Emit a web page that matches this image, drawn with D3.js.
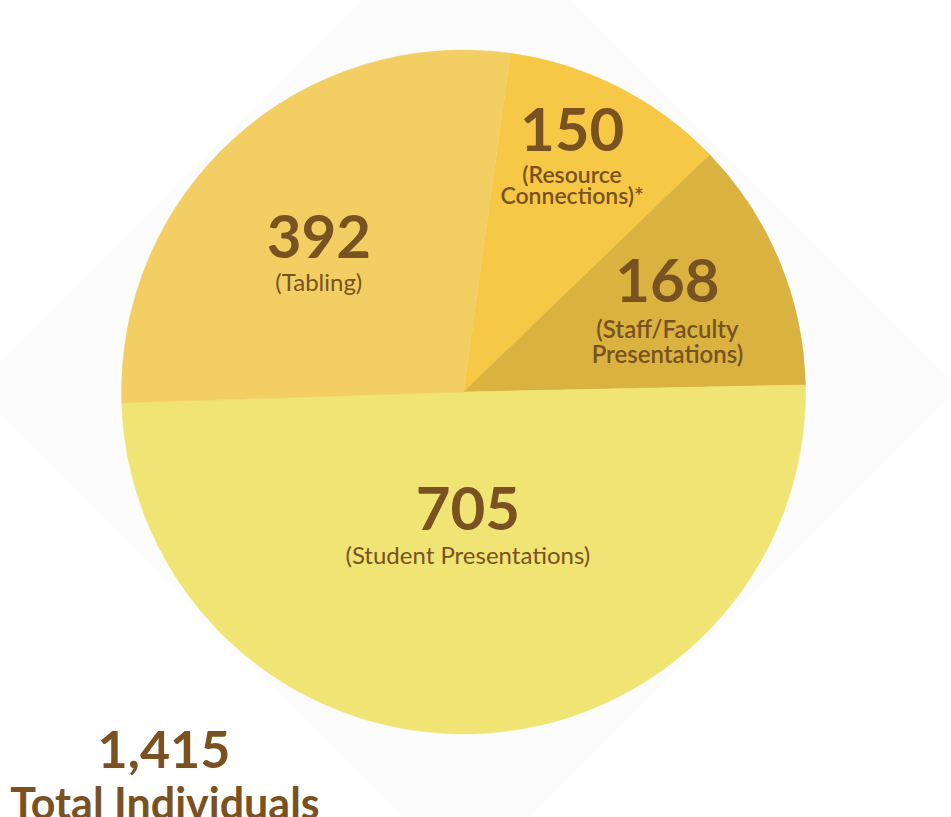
<!DOCTYPE html>
<html>
<head>
<meta charset="utf-8">
<script src="https://cdn.jsdelivr.net/npm/d3@7/dist/d3.min.js"></script>
<style>
  html, body { margin: 0; padding: 0; background: #ffffff; overflow: hidden; }
  svg { display: block; font-family: "Lato", "Open Sans", sans-serif; }
</style>
</head>
<body>
<svg id="chart" width="951" height="817"></svg>
<script>
// ---- data ----
const categories = ["Resource Connections", "Staff/Faculty Presentations", "Student Presentations", "Tabling"];
const values = [150, 168, 705, 392];
const subLabels = [["(Resource", "Connections)*"], ["(Staff/Faculty", "Presentations)"], ["(Student Presentations)"], ["(Tabling)"]];
const colors = ["#f6c845", "#d9b23f", "#f0e474", "#f3ce63"];
const totalLabel = "Total Individuals";

// ---- layout ----
const W = 951, H = 817;
const cx = 463.5, cy = 392, R = 342;
const startA = 0.138;
const textColor = "#7a5222";
// label anchor: radius and angle offset (deg) relative to slice mid-angle
const labelLayout = {
  "Resource Connections": { r: 264, da: -2.7, subW: 600, subSize: 23, lineH: 21, gap: 32 },
  "Staff/Faculty Presentations": { r: 223, da: -1.3, subW: 600, subSize: 24, lineH: 25, gap: 36 },
  "Student Presentations": { r: 138, da: -0.3, subW: 400, subSize: 24, lineH: 24, gap: 34 },
  "Tabling": { r: 197, da: -5.3, subW: 400, subSize: 24, lineH: 24, gap: 33 }
};

const svg = d3.select("#chart");

// faint diamond backdrop
const dc = [467, 388], dr = 492;
const diamond = d3.line().curve(d3.curveLinearClosed)([
  [dc[0], dc[1] - dr], [dc[0] + dr, dc[1]], [dc[0], dc[1] + dr], [dc[0] - dr, dc[1]]
]);
svg.append("path").attr("d", diamond).attr("fill", "#fcfcfc");

const pie = d3.pie().sort(null).value(d => d.v).startAngle(startA).endAngle(startA + 2 * Math.PI);
const data = categories.map((c, i) => ({ c, v: values[i], sub: subLabels[i], col: colors[i] }));
const arcs = pie(data);
const arc = d3.arc().innerRadius(0).outerRadius(R);

const g = svg.append("g").attr("transform", `translate(${cx},${cy})`);
g.selectAll("path.slice").data(arcs).join("path")
  .attr("class", "slice")
  .attr("d", arc)
  .attr("fill", d => d.data.col)
  .attr("stroke", d => d.data.col)
  .attr("stroke-width", 0.5);

const fmt = d3.format(",");
arcs.forEach(a => {
  const L = labelLayout[a.data.c];
  const mid = (a.startAngle + a.endAngle) / 2 + L.da * Math.PI / 180;
  const x = Math.sin(mid) * L.r, y = -Math.cos(mid) * L.r;
  const t = g.append("text")
    .attr("x", x).attr("y", y)
    .attr("text-anchor", "middle")
    .attr("fill", textColor);
  t.append("tspan")
    .attr("x", x).attr("y", y)
    .attr("font-weight", 700)
    .attr("font-size", 60)
    .text(fmt(a.data.v));
  a.data.sub.forEach((s, k) => {
    t.append("tspan")
      .attr("x", x).attr("y", y + L.gap + k * L.lineH)
      .attr("font-weight", L.subW)
      .attr("font-size", L.subSize)
      .text(s);
  });
});

// total
const total = d3.sum(values);
const tt = svg.append("text").attr("text-anchor", "middle").attr("fill", textColor).attr("font-weight", 700);
tt.append("tspan").attr("x", 164).attr("y", 768).attr("font-size", 52).text(fmt(total));
tt.append("tspan").attr("x", 165).attr("y", 819).attr("font-size", 43).text(totalLabel);
</script>
</body>
</html>
